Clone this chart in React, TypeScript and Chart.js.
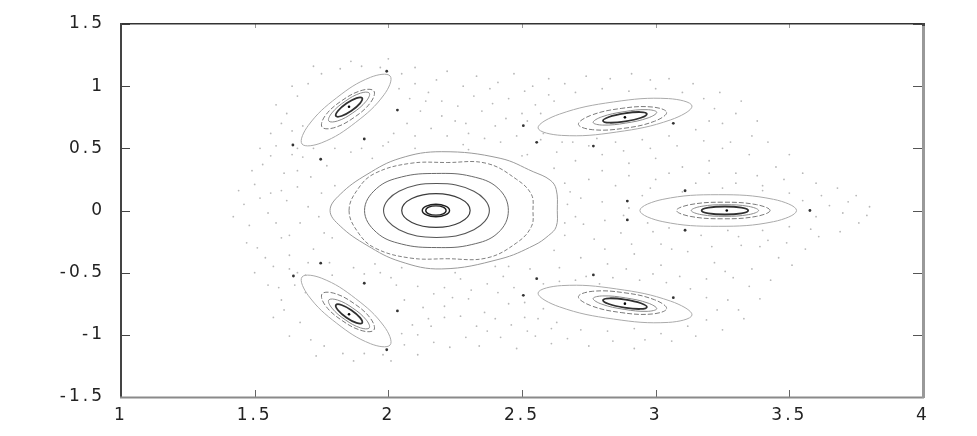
import React, { useEffect, useRef } from "react";
import { Chart, registerables } from "chart.js";

Chart.register(...registerables);

type P = [number, number];

const xTicks = [1, 1.5, 2, 2.5, 3, 3.5, 4];
const yTicks = [-1.5, -1, -0.5, 0, 0.5, 1, 1.5];

// central island (closed invariant curves, listed once around)
const coreA: P[] = [[2.127, 0], [2.142, 0.035], [2.178, 0.05], [2.214, 0.035], [2.229, 0], [2.214, -0.035], [2.178, -0.05], [2.142, -0.035]];
const coreB: P[] = [[2.14, 0], [2.151, 0.027], [2.178, 0.037], [2.205, 0.027], [2.216, 0], [2.205, -0.027], [2.178, -0.037], [2.151, -0.027]];
const ring2: P[] = [[2.05, 0], [2.088, 0.096], [2.178, 0.136], [2.268, 0.096], [2.306, 0], [2.268, -0.096], [2.178, -0.136], [2.088, -0.096]];
const ring3: P[] = [[1.982, 0], [2.04, 0.155], [2.18, 0.217], [2.32, 0.155], [2.378, 0], [2.32, -0.155], [2.18, -0.217], [2.04, -0.155]];
const ring4: P[] = [[1.911, 0], [1.955, 0.175], [2.05, 0.27], [2.18, 0.298], [2.31, 0.275], [2.41, 0.18], [2.449, 0], [2.41, -0.18], [2.31, -0.275], [2.18, -0.298], [2.05, -0.27], [1.955, -0.175]];
const ring5: P[] = [[1.853, 0], [1.888, 0.178], [1.95, 0.299], [2.081, 0.379], [2.22, 0.386], [2.368, 0.379], [2.48, 0.25], [2.535, 0.13], [2.541, 0], [2.535, -0.13], [2.48, -0.26], [2.368, -0.382], [2.22, -0.388], [2.081, -0.382], [1.95, -0.302], [1.888, -0.18]];
const ring6: P[] = [[1.782, 0], [1.82, 0.13], [1.92, 0.29], [2.044, 0.42], [2.2, 0.473], [2.418, 0.42], [2.542, 0.312], [2.605, 0.245], [2.628, 0.17], [2.632, 0], [2.628, -0.13], [2.6, -0.2], [2.545, -0.28], [2.418, -0.39], [2.2, -0.47], [2.044, -0.41], [1.92, -0.28], [1.82, -0.125]];

// upper-left island
const ulInner: P[] = [[1.902, 0.904], [1.894, 0.862], [1.862, 0.802], [1.825, 0.76], [1.804, 0.76], [1.812, 0.802], [1.844, 0.862], [1.881, 0.904]];
const ulSecond: P[] = [[1.929, 0.944], [1.917, 0.879], [1.867, 0.785], [1.81, 0.72], [1.777, 0.72], [1.789, 0.785], [1.839, 0.879], [1.896, 0.944]];
const ulMid: P[] = [[1.946, 0.961], [1.934, 0.87], [1.871, 0.747], [1.796, 0.665], [1.752, 0.671], [1.764, 0.763], [1.827, 0.885], [1.902, 0.967]];
const ulOuter: P[] = [[2.007, 1.081], [1.984, 0.931], [1.878, 0.709], [1.751, 0.545], [1.677, 0.535], [1.701, 0.685], [1.807, 0.907], [1.933, 1.071]];
// lower-left island
const llInner: P[] = [[1.902, -0.904], [1.894, -0.862], [1.862, -0.802], [1.825, -0.76], [1.804, -0.76], [1.812, -0.802], [1.844, -0.862], [1.881, -0.904]];
const llSecond: P[] = [[1.929, -0.944], [1.917, -0.879], [1.867, -0.785], [1.81, -0.72], [1.777, -0.72], [1.789, -0.785], [1.839, -0.879], [1.896, -0.944]];
const llMid: P[] = [[1.946, -0.961], [1.934, -0.87], [1.871, -0.747], [1.796, -0.665], [1.752, -0.671], [1.764, -0.763], [1.827, -0.885], [1.902, -0.967]];
const llOuter: P[] = [[2.007, -1.081], [1.984, -0.931], [1.878, -0.709], [1.751, -0.545], [1.677, -0.535], [1.701, -0.685], [1.807, -0.907], [1.933, -1.071]];
// upper-right island
const urInner: P[] = [[2.967, 0.777], [2.945, 0.746], [2.887, 0.717], [2.828, 0.706], [2.803, 0.721], [2.825, 0.752], [2.883, 0.781], [2.942, 0.792]];
const urSecond: P[] = [[3.004, 0.79], [2.972, 0.745], [2.888, 0.703], [2.802, 0.687], [2.766, 0.708], [2.798, 0.753], [2.882, 0.795], [2.968, 0.811]];
const urMid: P[] = [[3.041, 0.789], [2.996, 0.718], [2.881, 0.661], [2.763, 0.65], [2.711, 0.693], [2.756, 0.764], [2.871, 0.821], [2.989, 0.832]];
const urOuter: P[] = [[3.136, 0.84], [3.056, 0.729], [2.854, 0.631], [2.648, 0.604], [2.56, 0.664], [2.64, 0.775], [2.842, 0.873], [3.048, 0.9]];
// lower-right island
const lrInner: P[] = [[2.967, -0.777], [2.945, -0.746], [2.887, -0.717], [2.828, -0.706], [2.803, -0.721], [2.825, -0.752], [2.883, -0.781], [2.942, -0.792]];
const lrSecond: P[] = [[3.004, -0.79], [2.972, -0.745], [2.888, -0.703], [2.802, -0.687], [2.766, -0.708], [2.798, -0.753], [2.882, -0.795], [2.968, -0.811]];
const lrMid: P[] = [[3.041, -0.789], [2.996, -0.718], [2.881, -0.661], [2.763, -0.65], [2.711, -0.693], [2.756, -0.764], [2.871, -0.821], [2.989, -0.832]];
const lrOuter: P[] = [[3.136, -0.84], [3.056, -0.729], [2.854, -0.631], [2.648, -0.604], [2.56, -0.664], [2.64, -0.775], [2.842, -0.873], [3.048, -0.9]];
// right island
const rInner: P[] = [[3.346, 0], [3.321, 0.0228], [3.259, 0.0322], [3.197, 0.0228], [3.172, 0], [3.197, -0.0228], [3.259, -0.0322], [3.321, -0.0228]];
const rSecond: P[] = [[3.385, 0], [3.348, 0.033], [3.259, 0.0467], [3.17, 0.033], [3.133, 0], [3.17, -0.033], [3.259, -0.0467], [3.348, -0.033]];
const rMid: P[] = [[3.428, 0], [3.377, 0.0472], [3.253, 0.0667], [3.129, 0.0472], [3.078, 0], [3.129, -0.0472], [3.253, -0.0667], [3.377, -0.0472]];
const rOuter: P[] = [[3.527, 0], [3.441, 0.0898], [3.234, 0.127], [3.027, 0.0898], [2.941, 0], [3.027, -0.0898], [3.234, -0.127], [3.441, -0.0898]];

// island centres and hyperbolic-chain points
const centres: P[] = [[1.853, 0.834], [1.853, -0.834], [2.885, 0.749], [2.885, -0.749], [3.266, 0]];
const chainDots: P[] = [
  [1.643, 0.527], [1.747, 0.412], [1.91, 0.575], [2.034, 0.808], [1.994, 1.12], [2.505, 0.682], [2.555, 0.548],
  [2.767, 0.518], [3.066, 0.701], [3.11, 0.159], [2.894, 0.076], [3.577, 0], [2.894, -0.076], [3.11, -0.159],
  [3.066, -0.701], [2.767, -0.518], [2.555, -0.548], [2.505, -0.682], [2.034, -0.808], [1.994, -1.12],
  [1.91, -0.585], [1.747, -0.424], [1.645, -0.527],
];

// chaotic sea points
const sea: P[] = [
  [1.46, 0.05], [1.48, -0.12], [1.5, 0.21], [1.51, -0.3], [1.53, 0.37], [1.55, -0.02], [1.56, 0.14], [1.57, -0.45], [1.58, 0.52], [1.6, -0.22],
  [1.61, 0.3], [1.62, 0.08], [1.63, -0.36], [1.64, 0.64], [1.65, -0.6], [1.66, 0.19], [1.67, -0.1], [1.68, 0.43], [1.69, -0.52], [1.7, 0.03],
  [1.71, 0.27], [1.72, -0.31], [1.6, 0.7], [1.6, -0.72], [1.75, 0.14], [1.76, -0.18], [1.77, 0.36], [1.78, -0.42],
  [1.62, 0.78], [1.66, 0.92], [1.7, 1.02], [1.75, 1.1], [1.82, 1.14], [1.9, 1.16], [1.97, 1.15], [2.05, 1.1], [2.1, 1.02], [2.08, 0.9],
  [2.12, 0.8], [2.07, 0.7], [2.02, 0.62], [1.98, 0.52], [1.86, 0.47], [1.8, 0.5], [1.64, 0.45], [1.68, 0.68], [2.15, 0.95], [2.2, 0.88],
  [2.18, 1.05], [1.94, 0.42], [2.0, 0.55],
  [2.25, 0.72], [2.3, 0.62], [2.35, 0.8], [2.4, 0.68], [2.45, 0.9], [2.5, 0.78], [2.28, 0.53], [2.42, 0.55], [2.55, 0.85], [2.6, 0.93],
  [2.48, 0.6], [2.38, 0.98], [2.22, 0.6], [2.52, 0.45], [2.58, 0.62],
  [2.62, 0.88], [2.7, 0.95], [2.8, 0.98], [2.9, 0.96], [3.0, 0.98], [3.1, 0.95], [3.18, 0.9], [3.22, 0.82], [3.2, 0.72], [3.15, 0.65],
  [3.05, 0.6], [2.95, 0.57], [2.85, 0.55], [2.75, 0.52], [2.65, 0.55], [2.57, 0.57], [2.52, 0.72], [3.25, 0.7], [3.3, 0.78], [2.98, 1.05],
  [2.7, 0.4], [2.8, 0.45], [2.9, 0.38], [3.0, 0.42], [3.1, 0.35], [3.2, 0.4], [3.3, 0.3], [3.35, 0.45], [2.75, 0.25], [2.85, 0.2],
  [3.0, 0.25], [3.15, 0.22], [3.25, 0.18], [3.4, 0.2], [2.68, 0.15], [2.95, 0.12], [3.45, 0.35],
  [2.9, 0.02], [2.88, -0.04], [3.55, 0.08], [3.6, -0.05], [3.65, 0.04], [3.7, -0.02], [3.62, 0.12], [3.5, 0.14], [3.5, -0.13], [3.58, -0.15],
  [3.72, 0.07], [3.4, 0.16], [3.1, 0.15], [3.05, -0.14], [3.4, -0.16],
  [2.72, -0.38], [2.82, -0.43], [2.92, -0.35], [3.02, -0.44], [3.12, -0.33], [3.22, -0.42], [3.32, -0.28], [3.36, -0.47], [2.77, -0.23], [2.87, -0.18],
  [3.02, -0.27], [3.17, -0.2], [3.27, -0.16], [3.42, -0.24], [2.66, -0.2], [2.97, -0.1], [3.46, -0.38],
  [2.63, -0.9], [2.72, -0.96], [2.82, -0.97], [2.92, -0.95], [3.02, -0.99], [3.12, -0.93], [3.19, -0.88], [3.23, -0.8], [3.19, -0.7], [3.13, -0.63],
  [3.04, -0.58], [2.94, -0.56], [2.84, -0.54], [2.74, -0.53], [2.64, -0.57], [2.58, -0.59], [2.51, -0.74], [3.27, -0.72], [3.31, -0.8], [2.96, -1.04],
  [2.24, -0.7], [2.31, -0.64], [2.36, -0.82], [2.41, -0.66], [2.46, -0.92], [2.51, -0.86], [2.27, -0.55], [2.43, -0.53], [2.56, -0.87], [2.61, -0.95],
  [2.47, -0.62], [2.37, -0.97], [2.21, -0.62], [2.53, -0.47], [2.4, -0.45],
  [1.61, -0.8], [1.67, -0.9], [1.71, -1.04], [1.76, -1.09], [1.83, -1.15], [1.91, -1.15], [1.98, -1.16], [2.06, -1.08], [2.11, -1.0], [2.09, -0.92],
  [2.13, -0.78], [2.06, -0.72], [2.03, -0.6], [1.97, -0.5], [1.87, -0.46], [1.79, -0.52], [1.63, -0.47], [1.59, -0.62], [1.69, -0.66], [2.16, -0.93],
  [2.21, -0.86], [2.17, -1.06], [1.95, -0.43], [2.01, -0.54],
  [2.1, 0.5], [2.3, 0.49], [2.5, 0.44], [2.62, 0.34], [2.67, 0.05], [2.66, -0.1], [2.62, -0.32], [2.45, -0.45], [2.25, -0.5], [2.05, -0.46],
  [1.8, 0.2], [1.79, -0.22], [2.66, 0.22], [2.7, -0.05],
  [2.22, 1.12], [2.28, 1.0], [2.33, 1.08], [2.41, 1.03], [2.47, 1.1], [2.54, 1.0], [2.6, 1.06], [2.66, 1.02], [2.74, 1.08], [2.83, 1.06],
  [2.91, 1.1], [3.05, 1.06], [3.14, 1.02], [3.24, 0.95], [3.32, 0.88], [3.38, 0.72], [3.36, 0.6], [3.28, 0.55], [3.42, 0.55], [3.5, 0.45],
  [3.55, 0.3], [3.6, 0.22], [3.68, 0.18], [3.75, 0.12], [3.8, 0.03],
  [2.16, 0.66], [2.2, 0.76], [2.26, 0.84], [2.32, 0.92], [2.29, 0.7], [2.36, 0.58], [2.44, 0.74], [2.39, 0.86], [2.51, 0.96], [2.57, 0.78],
  [2.63, 0.47], [2.69, 0.55], [2.78, 0.58], [2.88, 0.48], [2.98, 0.5], [3.08, 0.52], [3.18, 0.56], [3.25, 0.5], [2.8, 0.32], [2.9, 0.28],
  [3.05, 0.3], [3.2, 0.3], [3.3, 0.22], [3.38, 0.28], [2.72, 0.1], [2.8, 0.07], [2.98, 0.18], [3.48, 0.25],
  [1.42, -0.05], [1.44, 0.16], [1.47, -0.26], [1.49, 0.32], [1.52, 0.1], [1.54, -0.38], [1.56, 0.44], [1.58, -0.1], [1.6, 0.16], [1.63, -0.2],
  [1.66, 0.32], [1.7, -0.42], [1.72, 0.5], [1.74, -0.05], [1.56, 0.62], [1.55, -0.6], [1.52, 0.5], [1.5, -0.5],
  [1.58, 0.85], [1.64, 1.0], [1.72, 1.16], [1.86, 1.2], [2.0, 1.22], [2.1, 1.15], [2.14, 0.88], [2.04, 0.98], [2.1, 0.6], [1.9, 0.5], [1.66, 0.5],
  [2.23, -1.1], [2.29, -1.02], [2.34, -1.09], [2.42, -1.02], [2.48, -1.11], [2.55, -1.01], [2.61, -1.07], [2.67, -1.03], [2.75, -1.09], [2.84, -1.05],
  [2.92, -1.11], [3.06, -1.05], [3.15, -1.01], [3.25, -0.96], [3.33, -0.87], [3.39, -0.71], [3.35, -0.61], [3.29, -0.54], [3.43, -0.56], [3.51, -0.44],
  [3.56, -0.31], [3.61, -0.21], [3.69, -0.17], [3.76, -0.1], [3.79, -0.04],
  [2.17, -0.67], [2.21, -0.77], [2.27, -0.85], [2.33, -0.93], [2.3, -0.71], [2.37, -0.59], [2.45, -0.75], [2.4, -0.87], [2.52, -0.97], [2.58, -0.79],
  [2.64, -0.46], [2.7, -0.56], [2.79, -0.59], [2.89, -0.47], [2.99, -0.51], [3.09, -0.53], [3.19, -0.55], [3.26, -0.49], [2.81, -0.31], [2.91, -0.27],
  [3.06, -0.31], [3.21, -0.29], [3.31, -0.21], [3.39, -0.29], [2.73, -0.11], [2.81, -0.08], [2.99, -0.17], [3.49, -0.26],
  [1.57, -0.86], [1.63, -1.01], [1.73, -1.17], [1.87, -1.21], [2.01, -1.21], [2.11, -1.16], [2.15, -0.87], [2.05, -0.99], [2.11, -0.61], [1.91, -0.51], [1.66, -0.5],
];

const toXY = (pts: P[]) => pts.map(([x, y]) => ({ x, y }));

// closed curve: the library gets the loop with one extra point on each side so the
// spline is smooth where it closes; the two helper segments are made invisible.
const curve = (pts: P[], color: string, width: number, dash: number[] = []) => {
  const n = pts.length;
  const wrapped = [pts[n - 1], ...pts, pts[0], pts[1]];
  const lastSeg = wrapped.length - 2;
  return {
    data: toXY(wrapped),
    showLine: true,
    borderColor: color,
    borderWidth: width,
    borderDash: dash,
    pointRadius: 0,
    pointHoverRadius: 0,
    tension: 0.4,
    fill: false,
    segment: {
      borderColor: (c: any) => (c.p0DataIndex === 0 || c.p0DataIndex === lastSeg ? "rgba(0,0,0,0)" : undefined),
    },
  };
};

const dots = (pts: P[], color: string, r: number) => ({
  data: toXY(pts),
  showLine: false,
  pointRadius: r,
  pointBorderWidth: 0,
  pointBackgroundColor: color,
  pointBorderColor: color,
});

const spacingPlugin = {
  id: "labelSpacing",
  beforeDraw(chart: any) {
    (chart.ctx as any).letterSpacing = "3px";
  },
  afterDraw(chart: any) {
    (chart.ctx as any).letterSpacing = "0px";
  },
};

const framePlugin = {
  id: "frame",
  afterDatasetsDraw(chart: any) {
    const { ctx, chartArea: a, scales } = chart;
    ctx.save();
    ctx.lineWidth = 1;
    for (const v of yTicks) {
      const py = Math.round(scales.y.getPixelForValue(v)) + 0.5;
      ctx.strokeStyle = "#444";
      ctx.beginPath();
      ctx.moveTo(a.left, py);
      ctx.lineTo(a.left + 9, py);
      ctx.stroke();
      ctx.strokeStyle = "#555";
      ctx.beginPath();
      ctx.moveTo(a.right - 10, py);
      ctx.lineTo(a.right, py);
      ctx.stroke();
    }
    for (const v of xTicks) {
      const px = Math.round(scales.x.getPixelForValue(v)) + 0.5;
      ctx.strokeStyle = "#666";
      ctx.beginPath();
      ctx.moveTo(px, a.bottom - 7);
      ctx.lineTo(px, a.bottom);
      ctx.stroke();
      ctx.strokeStyle = "#999";
      ctx.beginPath();
      ctx.moveTo(px, a.top);
      ctx.lineTo(px, a.top + 4);
      ctx.stroke();
    }
    ctx.fillStyle = "#333";
    ctx.fillRect(a.left - 1, a.top - 1, a.right - a.left + 2, 1.5);
    ctx.fillStyle = "#444";
    ctx.fillRect(a.left - 1, a.top - 1, 2, a.bottom - a.top + 2);
    ctx.fillStyle = "#8a8a8a";
    ctx.fillRect(a.left - 1, a.bottom - 0.5, a.right - a.left + 2, 2);
    ctx.fillStyle = "#999";
    ctx.fillRect(a.right - 1, a.top - 1, 3, a.bottom - a.top + 2);
    ctx.fillStyle = "#444";
    ctx.fillRect(a.right - 1, a.top - 1, 3, 3);
    ctx.restore();
  },
};

export default function App() {
  const ref = useRef<HTMLCanvasElement | null>(null);

  useEffect(() => {
    if (!ref.current) return;
    const tickFont = { family: "'DejaVu Sans', sans-serif", size: 17 };
    const fmt = (v: any) => String(v);
    const chart = new Chart(ref.current, {
      type: "scatter",
      data: {
        datasets: [
          dots(sea, "#b8b8b8", 0.9),
          curve(ring6, "#9a9a9a", 1),
          curve(ring5, "#808080", 1, [4, 2]),
          curve(ring4, "#6a6a6a", 1),
          curve(ring3, "#555555", 1.1),
          curve(ring2, "#3c3c3c", 1.2),
          curve(coreA, "#202020", 1.4),
          curve(coreB, "#202020", 1.4),
          curve(ulOuter, "#aaaaaa", 1),
          curve(ulMid, "#7a7a7a", 1, [5, 2]),
          curve(ulSecond, "#8c8c8c", 1),
          curve(ulInner, "#303030", 1.8),
          curve(llOuter, "#aaaaaa", 1),
          curve(llMid, "#7a7a7a", 1, [5, 2]),
          curve(llSecond, "#8c8c8c", 1),
          curve(llInner, "#303030", 1.8),
          curve(urOuter, "#aaaaaa", 1),
          curve(urMid, "#7a7a7a", 1, [5, 2]),
          curve(urSecond, "#8c8c8c", 1),
          curve(urInner, "#303030", 1.8),
          curve(lrOuter, "#aaaaaa", 1),
          curve(lrMid, "#7a7a7a", 1, [5, 2]),
          curve(lrSecond, "#8c8c8c", 1),
          curve(lrInner, "#303030", 1.8),
          curve(rOuter, "#aaaaaa", 1),
          curve(rMid, "#7a7a7a", 1, [5, 2]),
          curve(rSecond, "#8c8c8c", 1),
          curve(rInner, "#303030", 1.8),
          dots(chainDots, "#333333", 1.4),
          dots(centres, "#000000", 1.3),
        ] as any,
      },
      options: {
        animation: false,
        responsive: true,
        maintainAspectRatio: false,
        layout: { padding: 0 },
        plugins: { legend: { display: false }, tooltip: { enabled: false } },
        scales: {
          x: {
            type: "linear",
            position: "bottom",
            min: 1,
            max: 4,
            afterBuildTicks: (s: any) => { s.ticks = xTicks.map((v) => ({ value: v })); },
            afterFit: (s: any) => { s.height = 39; },
            grid: { display: false },
            border: { display: false },
            ticks: { font: tickFont, color: "#222", padding: 0, maxRotation: 0, autoSkip: false, callback: fmt },
          },
          y: {
            type: "linear",
            position: "left",
            min: -1.5,
            max: 1.5,
            afterBuildTicks: (s: any) => { s.ticks = yTicks.map((v) => ({ value: v })); },
            afterFit: (s: any) => { s.width = 121; },
            grid: { display: false },
            border: { display: false },
            ticks: { font: tickFont, color: "#222", padding: 8, autoSkip: false, callback: fmt },
          },
          x2: {
            type: "linear",
            position: "top",
            min: 1,
            max: 4,
            afterFit: (s: any) => { s.height = 24; },
            grid: { display: false },
            border: { display: false },
            ticks: { display: false },
          },
          y2: {
            type: "linear",
            position: "right",
            min: -1.5,
            max: 1.5,
            afterFit: (s: any) => { s.width = 54; },
            grid: { display: false },
            border: { display: false },
            ticks: { display: false },
          },
        },
      } as any,
      plugins: [spacingPlugin, framePlugin],
    });
    return () => chart.destroy();
  }, []);

  return (
    <div style={{ position: "fixed", left: 0, top: 0, width: 977, height: 436, background: "#fff" }}>
      <canvas ref={ref} />
    </div>
  );
}
